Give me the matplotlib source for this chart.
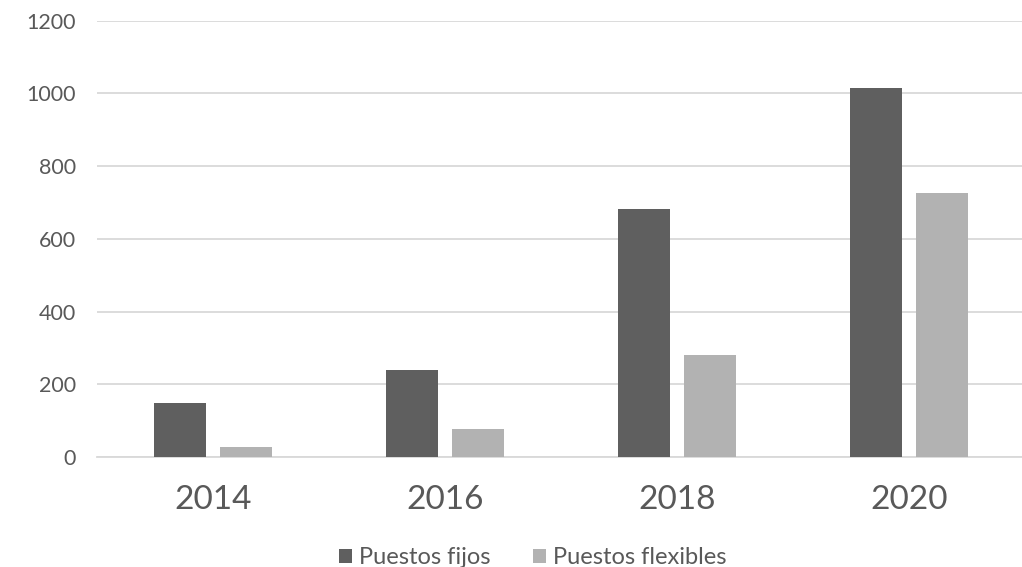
import numpy as np
import matplotlib.pyplot as plt

years = ['2014', '2016', '2018', '2020']
fijos = [148, 240, 681, 1015]
flexibles = [27, 76, 280, 725]

plt.rcParams['font.family'] = ['Lato', 'DejaVu Sans']
text_col = '#595959'

fig = plt.figure(figsize=(10.22, 5.67), dpi=100)
ax = fig.add_axes([97 / 1022, 110 / 567, 925 / 1022, 436.3 / 567])

x = np.arange(len(years))
w = 0.224
gap = 0.06
ax.bar(x - (w + gap) / 2, fijos, w, color='#5f5f5f', label='Puestos fijos', zorder=3)
ax.bar(x + (w + gap) / 2, flexibles, w, color='#b2b2b2', label='Puestos flexibles', zorder=3)

ax.set_xlim(-0.5, 3.5 - 3 / 232)
ax.set_ylim(0, 1200)
ax.set_yticks(range(0, 1201, 200))
ax.set_xticks(x)
ax.set_xticklabels(years)

ax.grid(axis='y', color='#d9d9d9', linewidth=1.3, zorder=0)
for s in ['top', 'right', 'left']:
    ax.spines[s].set_visible(False)
ax.spines['bottom'].set_color('#d9d9d9')
ax.spines['bottom'].set_linewidth(1.3)

ax.tick_params(axis='y', length=0, pad=15, labelsize=15.5, labelcolor=text_col)
ax.tick_params(axis='x', length=0, pad=20, labelsize=24, labelcolor=text_col)

# legend sits a bit right of centre in the original
fig.legend(loc='lower center', bbox_to_anchor=(0.5215, -0.04), ncol=2, frameon=False,
           fontsize=17, labelcolor=text_col, handlelength=0.55, handleheight=0.55,
           handletextpad=0.3, columnspacing=1.8)

fig.savefig('out.png', dpi=100)
